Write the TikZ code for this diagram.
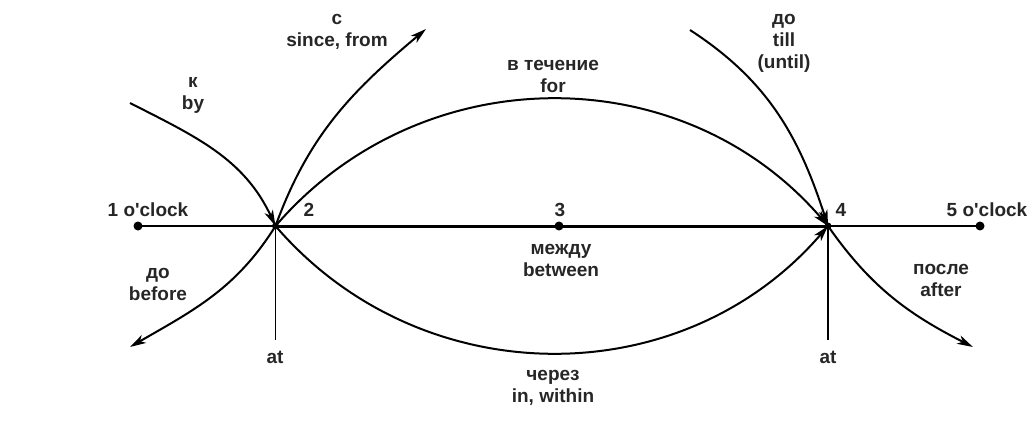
\documentclass[tikz,border=0pt]{standalone}
\usepackage{fontspec}
\setmainfont{Liberation Sans}
\usetikzlibrary{arrows.meta}
\begin{document}
\begin{tikzpicture}[x=1pt,y=1pt,
  lbl/.style={font=\fontsize{19}{22}\selectfont\bfseries, align=center, inner sep=0pt, text=black!85},
  thin/.style={line width=1.5pt},
  crv/.style={line width=2pt},
  arr/.style={-{Stealth[length=16pt,width=9pt,inset=4.5pt]}},
  dotm/.style={circle, fill=black, inner sep=0pt, minimum size=9pt}]
\useasboundingbox (0,0) rectangle (1032,-428);
% points
\coordinate (p1) at (138,-226);
\coordinate (p2) at (275.5,-226);
\coordinate (p3) at (559,-226);
\coordinate (p4) at (828,-226);
\coordinate (p5) at (980,-226);
\coordinate (a2) at (275.5,-340);
\coordinate (a4) at (828,-340);
\coordinate (byS) at (130,-103);
\coordinate (sinceE) at (426,-29);
\coordinate (beforeE) at (130,-347);
\coordinate (tillS) at (690,-30);
\coordinate (afterE) at (973,-347);
% main line
\draw[thin] (p1) -- (p2);
\draw[line width=3pt] (p2) -- (p4);
\draw[thin] (p4) -- (p5);
\draw[thin] (p2) -- (a2);
\draw[thin] (p4) -- (a4);
% arcs
\draw[crv,arr] (p2) .. controls +(49.3:223) and +(130.7:223) .. (p4);
\draw[crv,arr] (p2) .. controls +(-49.3:223) and +(-130.7:223) .. (p4);
% side curves
\draw[crv,arr] (byS) to[out=-27,in=115] (p2);
\draw[crv,arr] (p2) to[out=70,in=220] (sinceE);
\draw[crv,arr] (p2) to[out=-122,in=30] (beforeE);
\draw[crv,arr] (tillS) to[out=-33,in=108] (p4);
\draw[crv,arr] (p4) to[out=-55,in=153] (afterE);
% dots
\node[dotm] (d1) at (p1) {};
\node[dotm] (d3) at (p3) {};
\node[dotm] (d5) at (p5) {};
\node[dotm,minimum size=7pt] (d2) at (p2) {};
\node[dotm,minimum size=7pt] (d4) at (p4) {};
% labels
\node[lbl] (l1) at (148,-210) {1 o\textquotesingle clock};
\node[lbl] (l2) at (309,-210) {2};
\node[lbl] (l3) at (560,-210) {3};
\node[lbl] (l4) at (841,-210) {4};
\node[lbl] (l5) at (987,-210) {5 o\textquotesingle clock};
\node[lbl] (lat2) at (275,-357) {at};
\node[lbl] (lat4) at (828,-357) {at};
\node[lbl] (lby) at (193,-95) {к\\by};
\node[lbl] (lsince) at (337,-32) {с\\since, from};
\node[lbl] (lbefore) at (158,-284) {до\\before};
\node[lbl] (ltill) at (784,-43) {до\\till\\(until)};
\node[lbl] (lafter) at (941,-280) {после\\after};
\node[lbl] (lfor) at (553,-76) {в течение\\for};
\node[lbl] (lbetween) at (561,-260) {между\\between};
\node[lbl] (lin) at (553,-388) {через\\in, within};
\end{tikzpicture}
\end{document}
